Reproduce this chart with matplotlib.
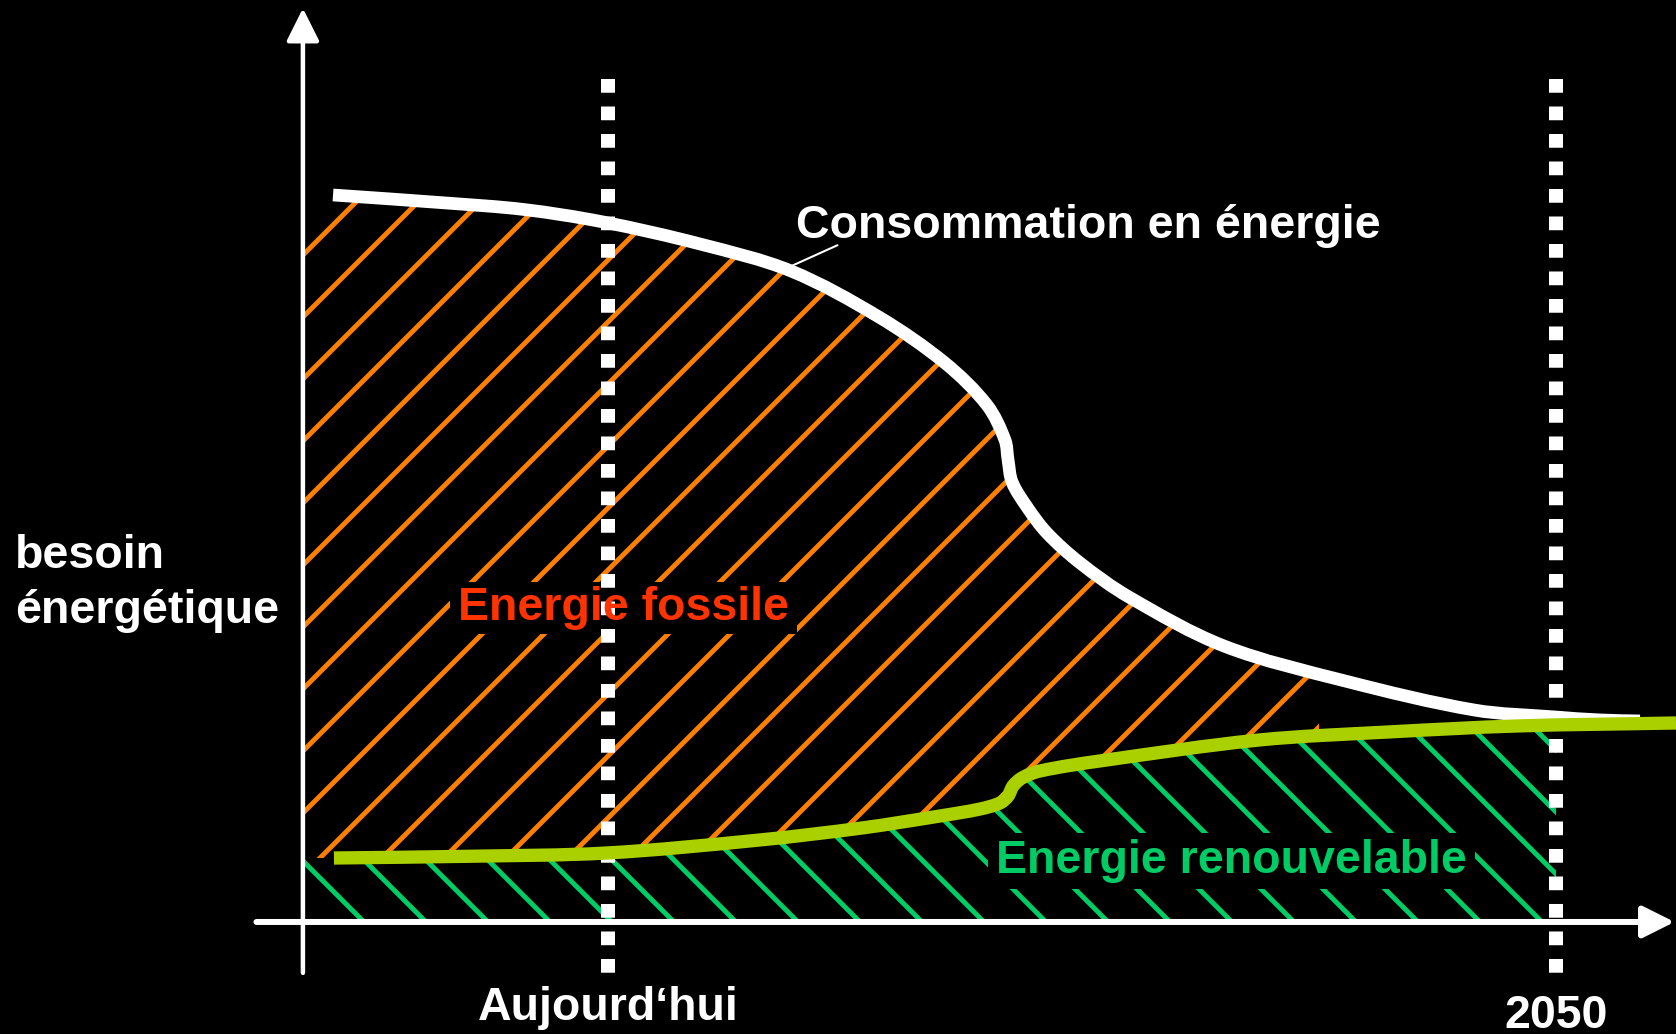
import numpy as np
import matplotlib
matplotlib.use("Agg")
import matplotlib.pyplot as plt
from matplotlib.patches import Rectangle, PathPatch
from matplotlib.path import Path

# ---------------- data (years, energy need in % of today's level) ----------------
consumption_years = [1998.40, 2003.16, 2006.46, 2009.79, 2013.88, 2017.72, 2021.43,
                     2024.22, 2025.99, 2026.75, 2026.88, 2027.05, 2027.68, 2028.52,
                     2029.92, 2031.98, 2035.99, 2041.10, 2046.54, 2049.96, 2051.86,
                     2053.54]
consumption = [100.0, 98.90, 98.0, 96.29, 93.26, 89.55, 83.22,
               76.89, 71.11, 66.30, 63.55, 60.52, 57.08, 53.51,
               49.38, 44.70, 37.96, 33.15, 29.16, 28.20, 27.79,
               27.65]

renewable_years = [1998.44, 2004.18, 2009.96, 2016.41, 2020.72, 2024.01, 2025.70,
                   2026.54, 2026.88, 2027.09, 2027.47, 2028.23, 2030.76, 2037.47,
                   2042.91, 2048.35, 2055.06]
renewable = [8.80, 9.04, 9.49, 11.28, 12.93, 14.58, 15.54,
             16.37, 17.33, 18.71, 19.81, 20.77, 22.15, 25.03,
             26.13, 26.96, 27.37]

TODAY = 2010
HORIZON = 2050
FOSSIL_HATCH_END = 2040

label_consumption = "Consommation en énergie"
label_fossil = "Energie fossile"
label_renewable = "Energie renouvelable"
label_y = ["besoin", "énergétique"]
label_today = "Aujourd\u2018hui"
label_horizon = "2050"

# ---------------- layout / style ----------------
DPI = 372
W, H = 1676, 1034
XLIM = (1984.35, 2055.06)
YLIM = (-15.41, 126.82)
AXIS_X0 = 1997.13
DOT_TOP, DOT_BOTTOM = 115.9, -7.0

WHITE = "white"
ORANGE = "#FF8000"
RED = "#FF3300"
TEAL = "#00CC66"
LIME = "#AAD000"

plt.rcParams["hatch.linewidth"] = 0.95
FONT = dict(family=["Liberation Sans", "DejaVu Sans"], weight="bold", fontsize=9.0)

fig = plt.figure(figsize=(W / DPI, H / DPI), dpi=DPI, facecolor="black")
ax = fig.add_axes([0, 0, 1, 1])
ax.set_facecolor("black")
ax.set_xlim(*XLIM)
ax.set_ylim(*YLIM)
ax.axis("off")

cx = np.array(consumption_years)
cy = np.array(consumption)
rx = np.array(renewable_years)
ry = np.array(renewable)

to_px = ax.transData
to_data = ax.transData.inverted()


def smooth(xs, ys):
    """Smooth cubic Bezier segments through the given points (drawn by Path)."""
    P = to_px.transform(np.column_stack([xs, ys]))
    d = np.hypot(*np.diff(P, axis=0).T)
    t = np.concatenate([[0.0], np.cumsum(d)])
    m = np.zeros_like(P)
    m[0] = (P[1] - P[0]) / d[0]
    m[-1] = (P[-1] - P[-2]) / d[-1]
    for i in range(1, len(P) - 1):
        m[i] = (P[i + 1] - P[i - 1]) / (t[i + 1] - t[i - 1])
    verts = [P[0]]
    codes = [Path.MOVETO]
    for i in range(len(P) - 1):
        h = d[i]
        verts += [P[i] + m[i] * h / 3, P[i + 1] - m[i + 1] * h / 3, P[i + 1]]
        codes += [Path.CURVE4] * 3
    return list(to_data.transform(np.array(verts))), codes


# ---- fossil hatch: between consumption and renewable curves ----
mc = cx <= FOSSIL_HATCH_END
mr = rx <= FOSSIL_HATCH_END
ux = np.append(cx[mc], FOSSIL_HATCH_END)
uy = np.append(cy[mc], np.interp(FOSSIL_HATCH_END, cx, cy))
lx = np.append(rx[mr], FOSSIL_HATCH_END)[::-1]
ly = np.append(ry[mr], np.interp(FOSSIL_HATCH_END, rx, ry))[::-1]
uv, uc = smooth(ux, uy)
lv, lc = smooth(lx, ly)
verts = [(AXIS_X0, cy[0])] + uv + lv + [(AXIS_X0, ry[0]), (AXIS_X0, cy[0])]
codes = [Path.MOVETO] + [Path.LINETO] + uc[1:] + [Path.LINETO] + lc[1:] + \
        [Path.LINETO, Path.CLOSEPOLY]
ax.add_patch(PathPatch(Path(verts, codes), facecolor="none", edgecolor=ORANGE,
                       hatch="//", linewidth=0, zorder=1))

# ---- renewable hatch: between renewable curve and x-axis ----
mr2 = rx <= HORIZON
gx = np.append(rx[mr2], HORIZON)
gy = np.append(ry[mr2], np.interp(HORIZON, rx, ry))
gv, gc = smooth(gx, gy)
verts = [(AXIS_X0, 0), (AXIS_X0, ry[0])] + gv + [(HORIZON, 0), (AXIS_X0, 0)]
codes = [Path.MOVETO, Path.LINETO, Path.LINETO] + gc[1:] + \
        [Path.LINETO, Path.CLOSEPOLY]
ax.add_patch(PathPatch(Path(verts, codes), facecolor="none", edgecolor=TEAL,
                       hatch="\\\\", linewidth=0, zorder=1))

# ---- dotted vertical markers ----
for xv in (TODAY, HORIZON):
    ax.plot([xv, xv], [DOT_TOP, DOT_BOTTOM], color=WHITE, lw=2.71,
            dashes=(0.982, 0.982), dash_capstyle="butt", zorder=3)

# ---- curves ----
wv, wc = smooth(cx, cy)
ax.add_patch(PathPatch(Path(wv, wc), facecolor="none", edgecolor=WHITE, lw=2.46,
                       capstyle="butt", joinstyle="round", zorder=4))
gv2, gc2 = smooth(rx, ry)
ax.add_patch(PathPatch(Path(gv2, gc2), facecolor="none", edgecolor=LIME, lw=2.57,
                       capstyle="butt", joinstyle="round", zorder=5))

# ---- axes arrows ----
ax.annotate("", xy=(AXIS_X0, 125.68), xytext=(AXIS_X0, DOT_BOTTOM),
            arrowprops=dict(arrowstyle="-|>,head_length=5.4,head_width=2.7",
                            mutation_scale=1, lw=0.87, color=WHITE,
                            shrinkA=0, shrinkB=0), zorder=6)
ax.annotate("", xy=(2055.0, 0), xytext=(1995.17, 0),
            arrowprops=dict(arrowstyle="-|>,head_length=5.2,head_width=2.6",
                            mutation_scale=1, lw=1.16, color=WHITE,
                            shrinkA=0, shrinkB=0), zorder=6)

# ---- texts ----
ax.annotate(label_consumption, xy=(2017.72, 90.2), xytext=(2017.93, 94.04),
            color=WHITE, ha="left", va="baseline", zorder=7,
            arrowprops=dict(arrowstyle="-", color=WHITE, lw=0.4, patchA=None,
                            relpos=(0.071, 0.07), shrinkA=0, shrinkB=0),
            **FONT)
t_fossil = ax.text(2003.67, 41.54, label_fossil, color=RED, ha="left",
                   va="baseline", zorder=7, **FONT)
t_ren = ax.text(2026.37, 6.67, label_renewable, color=TEAL, ha="left",
                va="baseline", zorder=7, **FONT)
ax.text(1984.98, 48.65, label_y[0], color=WHITE, ha="left", va="baseline",
        zorder=7, **FONT)
ax.text(1984.98, 41.09, label_y[1], color=WHITE, ha="left", va="baseline",
        zorder=7, **FONT)
ax.text(TODAY, -13.48, label_today, color=WHITE, ha="center", va="baseline",
        zorder=7, **FONT)
ax.text(HORIZON, -14.55, label_horizon, color=WHITE, ha="center", va="baseline",
        zorder=7, **FONT)

# ---- black masks behind the area labels (gap in the hatching) ----
renderer = fig.canvas.get_renderer()
for t, (padx, pady) in ((t_fossil, (8, 4)), (t_ren, (8, 6))):
    bb = t.get_window_extent(renderer)
    (x0, y0) = to_data.transform((bb.x0 - padx, bb.y0 - pady))
    (x1, y1) = to_data.transform((bb.x1 + padx, bb.y1 + pady))
    ax.add_patch(Rectangle((x0, y0), x1 - x0, y1 - y0, facecolor="black",
                           edgecolor="none", zorder=2))

fig.savefig("out.png", dpi=DPI, facecolor="black")
